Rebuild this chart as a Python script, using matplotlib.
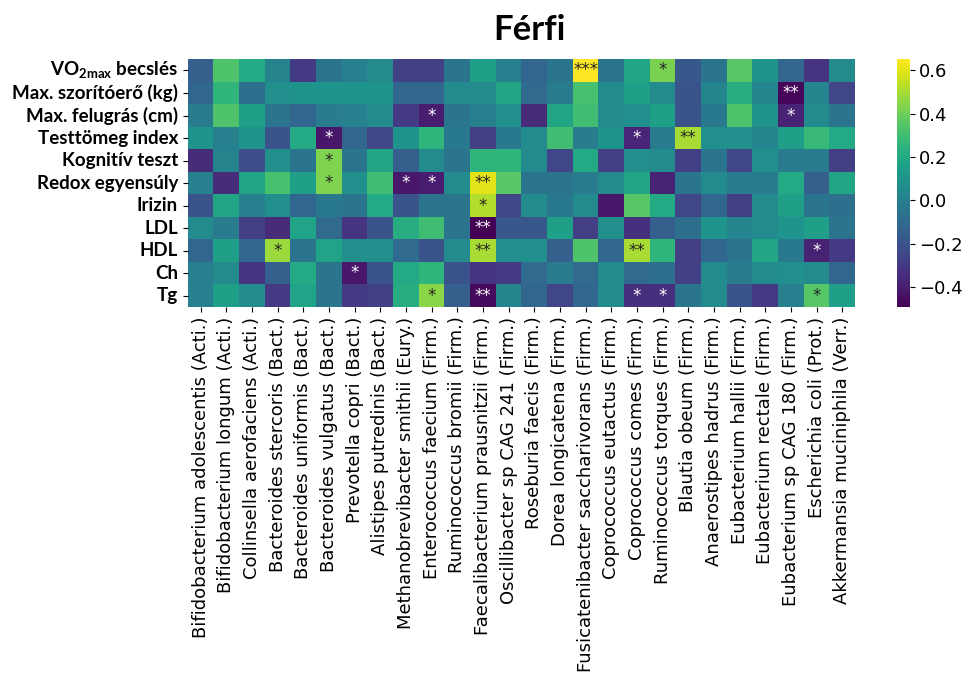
import numpy as np
import pandas as pd
import seaborn as sns
import matplotlib.pyplot as plt

# bacterial species (columns) and measured parameters (rows)
species = ['Bifidobacterium adolescentis (Acti.)', 'Bifidobacterium longum (Acti.)',
           'Collinsella aerofaciens (Acti.)', 'Bacteroides stercoris (Bact.)',
           'Bacteroides uniformis (Bact.)', 'Bacteroides vulgatus (Bact.)',
           'Prevotella copri (Bact.)', 'Alistipes putredinis (Bact.)',
           'Methanobrevibacter smithii (Eury.)', 'Enterococcus faecium (Firm.)',
           'Ruminococcus bromii (Firm.)', 'Faecalibacterium prausnitzii (Firm.)',
           'Oscillibacter sp CAG 241 (Firm.)', 'Roseburia faecis (Firm.)',
           'Dorea longicatena (Firm.)', 'Fusicatenibacter saccharivorans (Firm.)',
           'Coprococcus eutactus (Firm.)', 'Coprococcus comes (Firm.)',
           'Ruminococcus torques (Firm.)', 'Blautia obeum (Firm.)',
           'Anaerostipes hadrus (Firm.)', 'Eubacterium hallii (Firm.)',
           'Eubacterium rectale (Firm.)', 'Eubacterium sp CAG 180 (Firm.)',
           'Escherichia coli (Prot.)', 'Akkermansia muciniphila (Verr.)']

params = ['VO$_{\\mathrm{2max}}$ becslés', 'Max. szorítóerő (kg)', 'Max. felugrás (cm)',
          'Testtömeg index', 'Kognitív teszt', 'Redox egyensúly', 'Irizin',
          'LDL', 'HDL', 'Ch', 'Tg']

# correlation coefficients, one list per parameter
vo2max = [-0.15, 0.33, 0.20, 0.02, -0.30, -0.05, 0.00, 0.05, -0.27, -0.27, -0.05, 0.15, 0.00,
          -0.12, -0.05, 0.65, -0.05, 0.18, 0.42, -0.18, -0.05, 0.35, 0.10, -0.12, -0.32, 0.05]
grip = [-0.12, 0.25, -0.08, 0.08, 0.10, 0.10, 0.10, 0.10, -0.12, -0.12, 0.05, 0.05, 0.18,
        -0.10, -0.02, 0.32, 0.05, 0.15, 0.05, -0.20, 0.03, 0.22, 0.03, -0.47, 0.03, -0.25]
jump = [-0.02, 0.33, 0.15, -0.05, -0.12, -0.02, 0.00, 0.05, -0.30, -0.40, -0.05, 0.00, 0.08,
        -0.35, 0.18, 0.30, 0.05, 0.08, 0.15, -0.20, -0.03, 0.33, 0.10, -0.38, 0.05, -0.05]
bmi = [0.10, 0.00, 0.10, -0.20, 0.20, -0.42, -0.12, -0.25, 0.10, 0.25, -0.03, -0.28, -0.03,
       0.05, 0.30, -0.02, 0.10, -0.37, -0.02, 0.50, 0.08, 0.08, 0.03, 0.15, 0.28, 0.20]
cognitive = [-0.35, 0.02, -0.22, 0.08, -0.05, 0.43, -0.05, 0.18, -0.15, 0.05, -0.05, 0.25, 0.25,
             0.05, -0.25, 0.20, -0.28, 0.08, 0.05, -0.28, -0.05, -0.25, 0.08, -0.02, -0.02, -0.28]
redox = [0.00, -0.35, 0.18, 0.32, 0.15, 0.43, 0.08, 0.30, -0.42, -0.40, 0.05, 0.60, 0.35,
         -0.05, -0.05, -0.02, 0.05, 0.18, -0.38, -0.05, 0.05, -0.02, -0.02, 0.20, -0.15, 0.18]
irisin = [-0.20, 0.18, 0.00, 0.08, -0.12, -0.03, -0.05, 0.20, -0.20, -0.05, -0.05, 0.52, -0.25,
          0.05, -0.03, 0.05, -0.42, 0.35, 0.20, -0.25, -0.12, -0.28, 0.05, 0.15, -0.05, -0.08]
ldl = [0.05, -0.02, -0.28, -0.35, 0.17, -0.10, -0.32, -0.20, 0.22, 0.30, -0.05, -0.49, -0.18,
       -0.18, 0.15, -0.28, 0.08, -0.33, -0.15, -0.08, 0.10, 0.03, 0.05, 0.10, 0.15, -0.05]
hdl = [-0.12, 0.15, -0.12, 0.48, -0.05, 0.17, 0.08, 0.08, -0.10, -0.20, 0.05, 0.50, 0.08,
       0.08, -0.15, 0.33, -0.12, 0.50, 0.25, -0.28, -0.12, -0.05, 0.18, -0.03, -0.38, -0.30]
chol = [0.00, 0.05, -0.32, -0.15, 0.20, -0.05, -0.42, -0.20, 0.20, 0.25, -0.20, -0.32, -0.30,
        -0.10, -0.02, -0.10, 0.05, -0.10, -0.08, -0.28, 0.05, -0.02, 0.05, 0.08, 0.05, -0.12]
tg = [0.00, 0.15, 0.05, -0.30, 0.17, -0.05, -0.30, -0.27, 0.22, 0.45, -0.15, -0.46, 0.03,
      -0.12, -0.25, -0.12, 0.05, -0.33, -0.33, -0.05, 0.05, -0.20, -0.30, 0.00, 0.35, 0.15]

# significance marks as (row, column, stars)
signif = [(0, 15, '***'), (0, 18, '*'), (1, 23, '**'), (2, 9, '*'), (2, 23, '*'),
          (3, 5, '*'), (3, 17, '*'), (3, 19, '**'), (4, 5, '*'), (5, 5, '*'),
          (5, 8, '*'), (5, 9, '*'), (5, 11, '**'), (6, 11, '*'), (7, 11, '**'),
          (8, 3, '*'), (8, 11, '**'), (8, 17, '**'), (8, 24, '*'), (9, 6, '*'),
          (10, 9, '*'), (10, 11, '**'), (10, 17, '*'), (10, 18, '*'), (10, 24, '*')]

df = pd.DataFrame([vo2max, grip, jump, bmi, cognitive, redox, irisin, ldl, hdl, chol, tg],
                  index=params, columns=species)

stars = np.full(df.shape, '', dtype=object)
for r, c, s in signif:
    stars[r, c] = s

plt.rcParams['mathtext.fontset'] = 'custom'
plt.rcParams['mathtext.rm'] = 'Lato:bold'

fig = plt.figure(figsize=(9.63, 6.73), dpi=100)
ax = fig.add_axes([0.195, 0.544, 0.693, 0.368])
cax = fig.add_axes([0.931, 0.544, 0.0135, 0.368])

sns.heatmap(df, ax=ax, cbar_ax=cax, cmap='viridis', annot=stars, fmt='',
            annot_kws={'fontsize': 12})

ax.set_xticks(np.arange(len(species)) + 0.5)
ax.set_xticklabels(species, rotation=90, fontsize=13)
ax.set_yticks(np.arange(len(params)) + 0.5)
ax.set_yticklabels(params, rotation=0, fontsize=13.5, fontfamily='Lato', fontweight='bold')
cax.tick_params(labelsize=13)

fig.text(0.55, 0.955, 'Férfi', ha='center', va='center', fontsize=25,
         fontfamily='Lato', fontweight='bold')

fig.savefig('out.png', dpi=100)
